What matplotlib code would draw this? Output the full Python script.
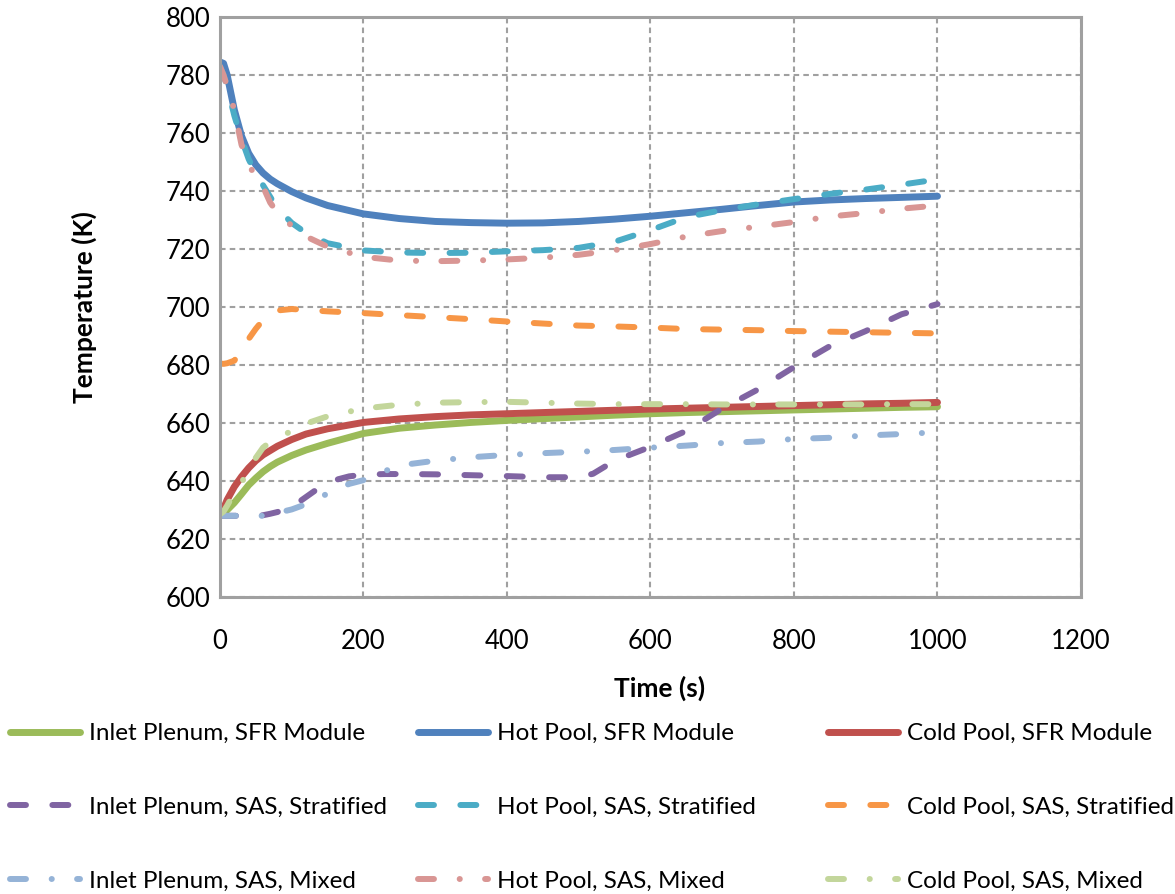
import matplotlib
matplotlib.use("Agg")
import matplotlib.pyplot as plt

# time axis (s)
time = [0, 5, 10, 20, 30, 40, 50, 60, 70, 80, 100, 120, 150, 200, 250, 300,
        350, 400, 450, 500, 550, 600, 650, 700, 750, 800, 850, 900, 950, 1000]

# SFR module results (K)
inlet_sfr = [628.5, 629, 630, 632.5, 635.5, 638.6, 641, 643.2, 645, 646.5, 648.8, 650.7,
             653, 656.4, 658.2, 659.3, 660.2, 660.9, 661.5, 662.1, 662.7, 663.2, 663.6,
             663.9, 664.2, 664.5, 664.8, 665.1, 665.4, 665.6]
hot_sfr = [784.5, 784, 780, 768, 759, 753, 749, 746.2, 744.1, 742.5, 739.8, 737.6, 735.0,
           732.1, 730.5, 729.5, 729.1, 728.9, 729, 729.5, 730.3, 731.3, 732.5, 733.7, 735,
           736.2, 736.9, 737.4, 737.8, 738.2]
cold_sfr = [629, 630.5, 633.5, 638, 641.5, 644.5, 647, 649, 650.5, 652, 654.3, 656.2, 658,
            660.2, 661.4, 662.2, 662.8, 663.2, 663.6, 664, 664.4, 664.8, 665.1, 665.4,
            665.7, 666, 666.3, 666.6, 666.8, 667.1]

# SAS results, stratified and mixed (K)
hot_strat = [783, 780, 776, 766, 758, 751, 746, 742, 738, 734, 729, 725.5, 722, 719.5,
             718.8, 718.6, 718.7, 719.2, 719.6, 720.4, 722.5, 726.5, 731, 733.4, 735.4,
             737.2, 739, 740.5, 742.2, 744]
cold_strat = [680.5, 680.4, 680.6, 681.5, 685, 689, 692.5, 695.5, 697.5, 698.8, 699.3,
              699, 698.5, 697.9, 697.2, 696.5, 695.8, 695, 694.3, 693.6, 693.3, 692.9,
              692.4, 692.2, 692, 691.7, 691.5, 691.3, 691.1, 690.9]
hot_mixed = [783, 780, 776, 768, 756, 749, 745, 741.5, 736, 732.5, 728, 724.3, 720.8,
             717.3, 716, 715.8, 716, 716.4, 717, 718, 719.6, 721.7, 724.3, 726.2, 727.7,
             729.3, 731.2, 732.4, 733.9, 735]
cold_mixed = [628.5, 629.5, 631.5, 636, 639.5, 643.5, 648, 651.5, 653.5, 655, 657.2, 659.8,
              662.3, 665, 666.3, 667, 667.2, 667.3, 667, 666.7, 666.5, 666.5, 666.5, 666.4,
              666.4, 666.4, 666.4, 666.4, 666.5, 666.5]

time_inlet = [0, 20, 40, 60, 70, 80, 100, 120, 140, 160, 180, 200, 230, 260, 300, 350,
              400, 450, 500, 520, 550, 600, 650, 700, 750, 800, 850, 900, 950, 1000]
inlet_strat = [628, 628, 628, 628.2, 628.7, 629.3, 631, 634.5, 638, 640.3, 641.6, 642.2,
               642.4, 642.4, 642.3, 642, 641.7, 641.3, 641.3, 642.5, 647, 651.8, 657.3,
               665, 671.6, 679.3, 686.5, 691.7, 697.5, 701]
inlet_mixed = [628, 628, 628, 628, 628.4, 629, 630.2, 632, 634.5, 636.8, 639, 640.3, 643.5,
               645.7, 647, 648.2, 649, 649.6, 650.1, 650.3, 650.7, 651.5, 652.2, 653.1,
               653.6, 654.5, 654.9, 655.7, 656.2, 656.8]

plt.rcParams['font.family'] = ['Lato', 'DejaVu Sans']
plt.rcParams['lines.scale_dashes'] = False

fig = plt.figure(figsize=(11.75, 8.94), dpi=100)
ax = fig.add_axes([0.1872, 0.3322, 0.7328, 0.6488])

long_dash = (0, (11.5, 19))
dash_dot = (0, (11.5, 18.5, 0.1, 18.2))
solid_w = 5.0
dash_w = 4.3

series = [
    (time, inlet_sfr, '#9BBB59', '-', solid_w, 'Inlet Plenum, SFR Module'),
    (time, hot_sfr, '#4F81BD', '-', solid_w, 'Hot Pool, SFR Module'),
    (time, cold_sfr, '#C0504D', '-', solid_w, 'Cold Pool, SFR Module'),
    (time_inlet, inlet_strat, '#8064A2', long_dash, dash_w, 'Inlet Plenum, SAS, Stratified'),
    (time, hot_strat, '#4BACC6', long_dash, dash_w, 'Hot Pool, SAS, Stratified'),
    (time, cold_strat, '#F79646', long_dash, dash_w, 'Cold Pool, SAS, Stratified'),
    (time_inlet, inlet_mixed, '#95B3D7', dash_dot, dash_w, 'Inlet Plenum, SAS, Mixed'),
    (time, hot_mixed, '#D99694', dash_dot, dash_w, 'Hot Pool, SAS, Mixed'),
    (time, cold_mixed, '#C3D69B', dash_dot, dash_w, 'Cold Pool, SAS, Mixed'),
]

handles = []
for x, y, c, ls, lw, name in series:
    ln, = ax.plot(x, y, color=c, linestyle=ls, linewidth=lw, label=name,
                  solid_capstyle='round', dash_capstyle='round',
                  solid_joinstyle='round', dash_joinstyle='round')
    handles.append(ln)

ax.set_xlim(0, 1200)
ax.set_ylim(600, 800)
ax.set_xticks(range(0, 1201, 200))
ax.set_yticks(range(600, 801, 20))
ax.grid(True, color='#A0A0A0', linestyle=(0, (4, 3)), linewidth=1.5)
ax.set_axisbelow(True)
for sp in ax.spines.values():
    sp.set_color('#A0A0A0')
    sp.set_linewidth(2.2)
ax.tick_params(length=0, labelsize=18.5, colors='black')
ax.tick_params(axis='x', pad=23)
ax.tick_params(axis='y', pad=7)

ax.set_xlabel('Time (s)', fontsize=19, fontweight='bold')
ax.set_ylabel('Temperature (K)', fontsize=19, fontweight='bold')
ax.xaxis.set_label_coords(0.51, -0.157)
ax.xaxis.label.set_va('center')
ax.yaxis.set_label_coords(-0.158, 0.5)
ax.yaxis.label.set_va('center')

# one legend block per column, spaced evenly under the plot
col_x = [10, 418, 828]
for i, x0 in enumerate(col_x):
    group = [handles[i], handles[i + 3], handles[i + 6]]
    fig.legend(handles=group, loc='upper left',
               bbox_to_anchor=(x0 / 1175, 1 - 723 / 894),
               frameon=False, fontsize=17.5, borderpad=0, borderaxespad=0,
               handlelength=2.9, handletextpad=0.33, labelspacing=2.17)

fig.savefig('out.png', dpi=100)
